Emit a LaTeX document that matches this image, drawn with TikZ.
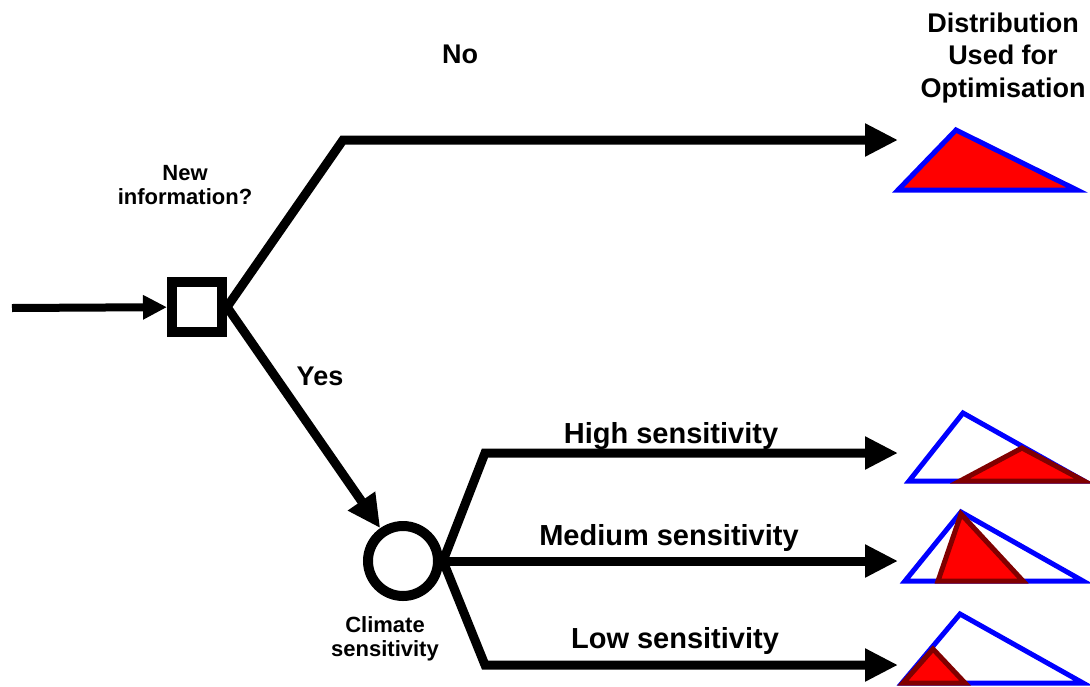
\documentclass[tikz,border=0pt]{standalone}
\usepackage{fontspec}
\setmainfont{Liberation Sans}
\usepackage{tikz}
\usetikzlibrary{arrows.meta}
\definecolor{distblue}{RGB}{0,0,255}
\definecolor{distred}{RGB}{255,0,0}
\definecolor{darkred}{RGB}{128,0,0}
\tikzset{
  branch/.style={-{Triangle[length=33pt,width=31pt]}, line width=9pt, draw=black},
  feed/.style={-{Triangle[length=24pt,width=23pt]}, line width=8pt, draw=black},
  decision/.style={rectangle, draw=black, line width=10pt, minimum size=50pt, inner sep=0pt},
  chancenode/.style={circle, draw=black, line width=10pt, minimum size=70pt, inner sep=0pt},
  biglbl/.style={font=\fontsize{27}{32.5}\selectfont\bfseries, align=center, inner sep=0pt, anchor=base},
  senslbl/.style={font=\fontsize{29}{34}\selectfont\bfseries, inner sep=0pt, anchor=base},
  smalllbl/.style={font=\fontsize{22}{24}\selectfont\bfseries, align=center, inner sep=0pt, anchor=base},
  prior/.style={draw=distblue, line width=5pt},
  posterior/.style={draw=darkred, fill=distred, line width=5pt},
}

\begin{document}
\begin{tikzpicture}[x=1pt,y=-1pt]
  \useasboundingbox (0,0) rectangle (1090,686);

  % decision and chance nodes
  \node[decision] (dec) at (197,307) {};
  \node[chancenode] (chance) at (403,561) {};

  % free ends and bends
  \coordinate (start) at (12,308);
  \coordinate (nobend) at (343,140);
  \coordinate (noend) at (898,140);
  \coordinate (hibend) at (485,453);
  \coordinate (hiend) at (898,453);
  \coordinate (medend) at (898,561);
  \coordinate (lobend) at (485,665);
  \coordinate (loend) at (898,665);

  % branches
  \draw[feed] (start) -- (dec);
  \draw[branch] (dec.east) -- (nobend) -- (noend);
  \draw[branch] (dec.east) -- (chance);
  \draw[branch] (chance.east) -- (hibend) -- (hiend);
  \draw[branch] (chance.east) -- (medend);
  \draw[branch] (chance.east) -- (lobend) -- (loend);

  % labels (base = last line)
  \node[biglbl] (head) at (1003,97) {Distribution\\Used for\\Optimisation};
  \node[biglbl] (nolbl) at (460,63) {No};
  \node[biglbl] (yeslbl) at (320,385) {Yes};
  \node[smalllbl] (newinfo) at (185,204) {New\\information?};
  \node[smalllbl] (climate) at (385,656) {Climate\\sensitivity};
  \node[senslbl] (hilbl) at (671,443) {High sensitivity};
  \node[senslbl] (medlbl) at (669,545) {Medium sensitivity};
  \node[senslbl] (lolbl) at (675,648) {Low sensitivity};

  % distribution without new information
  \draw[prior, fill=distred] (898,190) -- (956,130) -- (1077,190) -- cycle;
  % high sensitivity
  \draw[prior, fill=white] (909,481) -- (963,413) -- (1084,481) -- cycle;
  \draw[posterior] (960,481) -- (1022,448) -- (1084,481) -- cycle;
  % medium sensitivity
  \draw[prior, fill=white] (905,581) -- (961,512) -- (1083,581) -- cycle;
  \draw[posterior] (938,581) -- (961,514) -- (1023,581) -- cycle;
  % low sensitivity
  \draw[prior, fill=white] (902,683) -- (960,614) -- (1083,683) -- cycle;
  \draw[posterior] (903,683) -- (933,649) -- (965,683) -- cycle;
\end{tikzpicture}
\end{document}
